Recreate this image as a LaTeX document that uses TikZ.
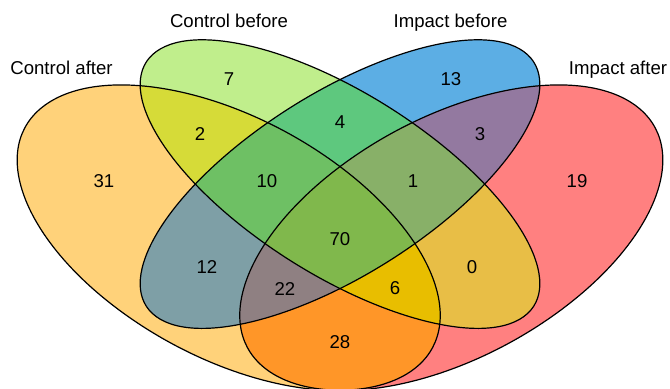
\documentclass[tikz,border=0pt]{standalone}
\usepackage{fontspec}
\setmainfont{Liberation Sans}
\usepackage{xcolor}
\definecolor{PaleOrange}{RGB}{255,210,122}
\definecolor{PaleGreen}{RGB}{192,238,140}
\definecolor{SkyBlue}{RGB}{92,174,228}
\definecolor{LightRed}{RGB}{255,128,128}
\definecolor{Citron}{RGB}{214,219,56}
\definecolor{SlateGrey}{RGB}{126,159,166}
\definecolor{DeepOrange}{RGB}{255,150,40}
\definecolor{MintGreen}{RGB}{94,200,126}
\definecolor{Mustard}{RGB}{232,190,70}
\definecolor{Mauve}{RGB}{147,121,160}
\definecolor{LeafGreen}{RGB}{110,192,100}
\definecolor{Amber}{RGB}{232,190,0}
\definecolor{Taupe}{RGB}{143,128,130}
\definecolor{Sage}{RGB}{136,176,104}
\definecolor{GrassGreen}{RGB}{128,184,76}
\usepackage{tikz}

% the four sets, in unit coordinates
\newcommand{\ctrlafter}{[shift={(0.35,0.47)}, rotate=-45] (0,0) ellipse (0.35 and 0.2)}
\newcommand{\ctrlbefore}{[shift={(0.5,0.57)}, rotate=-45] (0,0) ellipse (0.35 and 0.15)}
\newcommand{\impbefore}{[shift={(0.5,0.57)}, rotate=45] (0,0) ellipse (0.35 and 0.15)}
\newcommand{\impafter}{[shift={(0.65,0.47)}, rotate=45] (0,0) ellipse (0.35 and 0.2)}

\begin{document}
\begin{tikzpicture}[x=0.5pt, y=0.5pt,
  region/.style={font=\fontsize{9.3}{11}\selectfont, anchor=base, inner sep=0pt},
  setlabel/.style={font=\fontsize{9.3}{11}\selectfont, anchor=base, inner sep=0pt},
  outline/.style={draw=black, line width=0.6pt}]
\useasboundingbox (0,0) rectangle (670,388);

\begin{scope}[shift={(-31,-101.5)}, xscale=742, yscale=535.8]
  % single sets
  \fill[PaleOrange] \ctrlafter;
  \fill[PaleGreen] \ctrlbefore;
  \fill[SkyBlue] \impbefore;
  \fill[LightRed] \impafter;
  % pairs
  \begin{scope} \clip \ctrlafter; \fill[Citron] \ctrlbefore; \end{scope}
  \begin{scope} \clip \ctrlafter; \fill[SlateGrey] \impbefore; \end{scope}
  \begin{scope} \clip \ctrlafter; \fill[DeepOrange] \impafter; \end{scope}
  \begin{scope} \clip \ctrlbefore; \fill[MintGreen] \impbefore; \end{scope}
  \begin{scope} \clip \ctrlbefore; \fill[Mustard] \impafter; \end{scope}
  \begin{scope} \clip \impbefore; \fill[Mauve] \impafter; \end{scope}
  % triples
  \begin{scope} \clip \ctrlafter; \clip \ctrlbefore; \fill[LeafGreen] \impbefore; \end{scope}
  \begin{scope} \clip \ctrlafter; \clip \ctrlbefore; \fill[Amber] \impafter; \end{scope}
  \begin{scope} \clip \ctrlafter; \clip \impbefore; \fill[Taupe] \impafter; \end{scope}
  \begin{scope} \clip \ctrlbefore; \clip \impbefore; \fill[Sage] \impafter; \end{scope}
  % all four
  \begin{scope} \clip \ctrlafter; \clip \ctrlbefore; \clip \impbefore; \fill[GrassGreen] \impafter; \end{scope}
  % outlines
  \draw[outline] \ctrlafter;
  \draw[outline] \ctrlbefore;
  \draw[outline] \impbefore;
  \draw[outline] \impafter;
\end{scope}

\node[setlabel] (ca) at (61.5,314) {Control after};
\node[setlabel] (cb) at (229,361) {Control before};
\node[setlabel] (ib) at (450.5,361) {Impact before};
\node[setlabel] (ia) at (618,314) {Impact after};

\node[region] (a) at (104,200.5) {31};
\node[region] (b) at (229,302.5) {7};
\node[region] (c) at (451,302.5) {13};
\node[region] (d) at (577,200.5) {19};
\node[region] (ab) at (200,248) {2};
\node[region] (bc) at (340,260) {4};
\node[region] (cd) at (480,248) {3};
\node[region] (abc) at (267,200.5) {10};
\node[region] (bcd) at (413,200.5) {1};
\node[region] (ac) at (207,114.5) {12};
\node[region] (abcd) at (340,142.5) {70};
\node[region] (bd) at (472,114.5) {0};
\node[region] (acd) at (285,92.5) {22};
\node[region] (abd) at (395,93.5) {6};
\node[region] (ad) at (340,39.5) {28};
\end{tikzpicture}
\end{document}
